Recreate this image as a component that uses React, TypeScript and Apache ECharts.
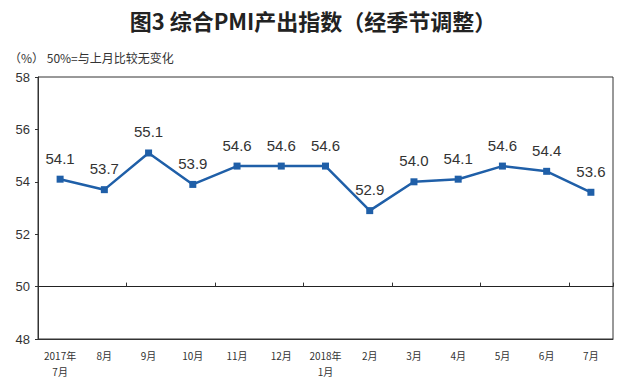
import React, { useEffect, useRef } from "react";
import * as echarts from "echarts";

const categories = [
  "2017年\n7月", "8月", "9月", "10月", "11月", "12月", "2018年\n1月",
  "2月", "3月", "4月", "5月", "6月", "7月",
];
const values = [54.1, 53.7, 55.1, 53.9, 54.6, 54.6, 54.6, 52.9, 54.0, 54.1, 54.6, 54.4, 53.6];
const yTicks = { min: 48, max: 58, interval: 2 };
const titleText = "图3 综合PMI产出指数（经季节调整）";
const subText = "（%） 50%=与上月比较无变化";
const baseline = 50;

export default function App() {
  const ref = useRef<HTMLDivElement>(null);
  useEffect(() => {
    if (!ref.current) return;
    const chart = echarts.init(ref.current, undefined, { renderer: "svg" });
    const H = 391;
    const left = 38, right = 13, top = 77, bottom = 52;
    const plotH = H - top - bottom;
    const baseBottom = bottom + (plotH * (baseline - yTicks.min)) / (yTicks.max - yTicks.min);
    chart.setOption({
      animation: false,
      backgroundColor: "#ffffff",
      title: [
        {
          text: titleText,
          left: "center",
          top: 4,
          textStyle: { fontFamily: "Noto Sans CJK SC", fontSize: 22, fontWeight: "bold", color: "#222" },
        },
        {
          text: subText,
          left: 4,
          top: 46,
          textStyle: { fontFamily: "Noto Sans CJK SC", fontSize: 12, fontWeight: "normal", color: "#333" },
        },
      ],
      grid: [
        { left, right, top, bottom, show: true, borderColor: "#333", borderWidth: 1, backgroundColor: "transparent" },
        { left, right, top, bottom: baseBottom, show: false },
      ],
      xAxis: [
        {
          type: "category",
          gridIndex: 0,
          data: categories,
          boundaryGap: true,
          axisLine: { show: true, lineStyle: { color: "#333", width: 1 } },
          axisTick: { show: false },
          axisLabel: {
            interval: 0,
            fontFamily: "Noto Sans CJK SC",
            fontSize: 10,
            color: "#333",
            lineHeight: 16,
            margin: 8,
          },
        },
        {
          type: "category",
          gridIndex: 1,
          data: categories,
          boundaryGap: true,
          axisLine: { show: true, lineStyle: { color: "#222", width: 1.2 } },
          axisTick: { show: true, inside: true, length: 4, lineStyle: { color: "#333" } },
          axisLabel: { show: false },
        },
      ],
      yAxis: [
        {
          type: "value",
          gridIndex: 0,
          min: yTicks.min,
          max: yTicks.max,
          interval: yTicks.interval,
          splitLine: { show: false },
          axisLine: { show: true, lineStyle: { color: "#333" } },
          axisTick: { show: true, length: 3, lineStyle: { color: "#333" } },
          axisLabel: { fontFamily: "Liberation Sans", fontSize: 13, color: "#333", margin: 8 },
        },
        {
          type: "value",
          gridIndex: 1,
          show: false,
          min: 0,
          max: 1,
        },
      ],
      series: [
        {
          type: "line",
          xAxisIndex: 0,
          yAxisIndex: 0,
          data: values,
          symbol: "rect",
          symbolSize: 7,
          lineStyle: { color: "#1F5FA8", width: 2.5 },
          itemStyle: { color: "#1F5FA8" },
          label: {
            show: true,
            position: "top",
            distance: 10,
            fontFamily: "Liberation Sans",
            fontSize: 15,
            color: "#333",
            formatter: (p: any) => Number(p.value).toFixed(1),
          },
        },
      ],
    });
    return () => chart.dispose();
  }, []);
  return <div ref={ref} style={{ width: 626, height: 391, position: "absolute", left: 0, top: 0 }} />;
}
